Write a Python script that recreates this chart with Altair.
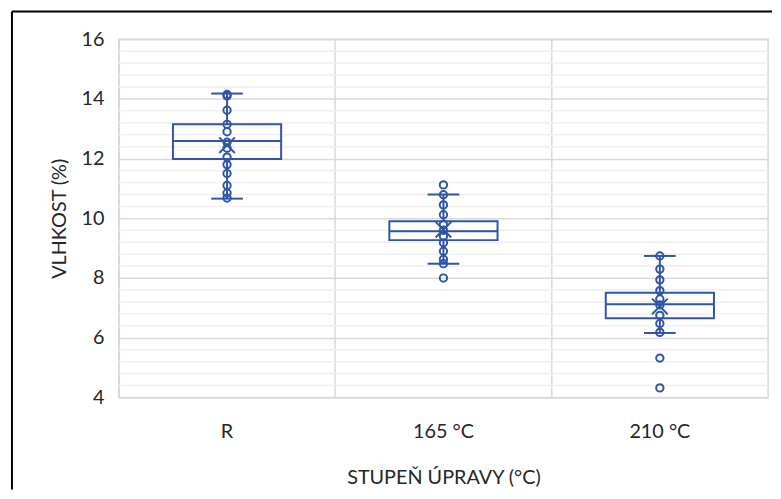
import altair as alt
import pandas as pd

groups = ["R", "165 °C", "210 °C"]

pts_R = [14.15, 14.1, 13.62, 13.15, 12.9, 12.55, 12.35, 12.05, 11.8, 11.5, 11.1, 10.85, 10.68]
pts_165 = [11.12, 10.79, 10.45, 10.12, 9.79, 9.6, 9.4, 9.18, 8.9, 8.63, 8.48, 8.0]
pts_210 = [8.74, 8.3, 7.94, 7.58, 7.3, 7.1, 6.75, 6.48, 6.18, 5.32, 4.32]

# box summary
q1 = [11.99, 9.27, 6.65]
median = [12.59, 9.57, 7.12]
q3 = [13.15, 9.9, 7.51]
whisk_lo = [10.66, 8.48, 6.16]
whisk_hi = [14.18, 10.8, 8.74]
mean = [12.45, 9.62, 7.05]

y_ticks = [4, 6, 8, 10, 12, 14, 16]
minor_ticks = [4.4, 4.8, 5.2, 5.6, 6.4, 6.8, 7.2, 7.6, 8.4, 8.8, 9.2, 9.6,
               10.4, 10.8, 11.2, 11.6, 12.4, 12.8, 13.2, 13.6, 14.4, 14.8, 15.2, 15.6]

BLUE = "#2F55A4"
FONT = "Lato"
TXT = "#262626"
FS = 20

pts = pd.DataFrame(
    [{"g": g, "v": v} for g, vals in zip(groups, [pts_R, pts_165, pts_210]) for v in vals]
)
summ = pd.DataFrame({"g": groups, "q1": q1, "med": median, "q3": q3,
                     "lo": whisk_lo, "hi": whisk_hi, "mean": mean})
minor = pd.DataFrame({"m": minor_ticks})

W, H = 656, 362

xaxis = alt.Axis(title="STUPEŇ ÚPRAVY (°C)", labelAngle=0, ticks=False, domain=False,
                 grid=True, bandPosition=0, gridColor="#D9D9D9", gridWidth=1.5,
                 labelFont=FONT, labelFontSize=FS, labelColor=TXT, labelPadding=24,
                 titleFont=FONT, titleFontSize=FS, titleFontWeight="normal",
                 titleColor=TXT, titlePadding=27)
xenc = alt.X("g:N", sort=groups, scale=alt.Scale(paddingInner=0, paddingOuter=0), axis=xaxis)
yscale = alt.Scale(domain=[4, 16], nice=False, zero=False)
yaxis = alt.Axis(title="VLHKOST (%)", values=y_ticks, ticks=False, domain=False,
                 grid=True, gridColor="#D9D9D9", gridWidth=1.5,
                 labelFont=FONT, labelFontSize=FS, labelColor=TXT, labelPadding=15,
                 titleFont=FONT, titleFontSize=FS, titleFontWeight="normal",
                 titleColor=TXT, titlePadding=12)


def Y(field):
    return alt.Y(field, scale=yscale, axis=yaxis, title="VLHKOST (%)")


minor_rules = alt.Chart(minor).mark_rule(color="#EFEFEF", strokeWidth=1.5).encode(
    y=Y("m:Q"))

base = alt.Chart(summ)
whisk_top = base.mark_rule(color=BLUE, strokeWidth=2, opacity=1).encode(
    x=xenc, y=Y("q3:Q"), y2="hi:Q")
whisk_bot = base.mark_rule(color=BLUE, strokeWidth=2, opacity=1).encode(
    x=xenc, y=Y("lo:Q"), y2="q1:Q")
cap_hi = base.mark_tick(color=BLUE, size=32, thickness=2, opacity=1).encode(
    x=xenc, y=Y("hi:Q"))
cap_lo = base.mark_tick(color=BLUE, size=32, thickness=2, opacity=1).encode(
    x=xenc, y=Y("lo:Q"))
box = base.mark_bar(width=alt.RelativeBandSize(0.5), fillOpacity=0, fill="white",
                    stroke=BLUE, strokeWidth=2, opacity=1).encode(
    x=xenc, y=Y("q1:Q"), y2="q3:Q")
med = base.mark_tick(color=BLUE, size=109, thickness=2, opacity=1).encode(
    x=xenc, y=Y("med:Q"))
points = alt.Chart(pts).mark_point(shape="circle", filled=False, color=BLUE, size=55,
                                   strokeWidth=2, opacity=1).encode(
    x=xenc, y=Y("v:Q"))
mean_x = base.mark_point(shape="M-1,-1L1,1M-1,1L1,-1", filled=False, color=BLUE, size=250,
                         strokeWidth=2, opacity=1).encode(
    x=xenc, y=Y("mean:Q"))

frame_data = alt.Data(values=[{"a": 1}])
frame_left = alt.Chart(frame_data).mark_rule(color="black", strokeWidth=2).encode(
    x=alt.value(-108), y=alt.value(-28), y2=alt.value(455))
frame_top = alt.Chart(frame_data).mark_rule(color="black", strokeWidth=2).encode(
    x=alt.value(-108), x2=alt.value(660), y=alt.value(-28))

chart = alt.layer(
    minor_rules, points, whisk_top, whisk_bot, cap_hi, cap_lo, box, med, mean_x,
    frame_left, frame_top
).properties(
    width=W, height=H,
    padding={"left": 3, "top": 0, "right": 0, "bottom": 0},
    background="white",
).configure_view(stroke="#D9D9D9", strokeWidth=1.5)

chart.save("out.html", embed_options={"renderer": "svg", "actions": False})
